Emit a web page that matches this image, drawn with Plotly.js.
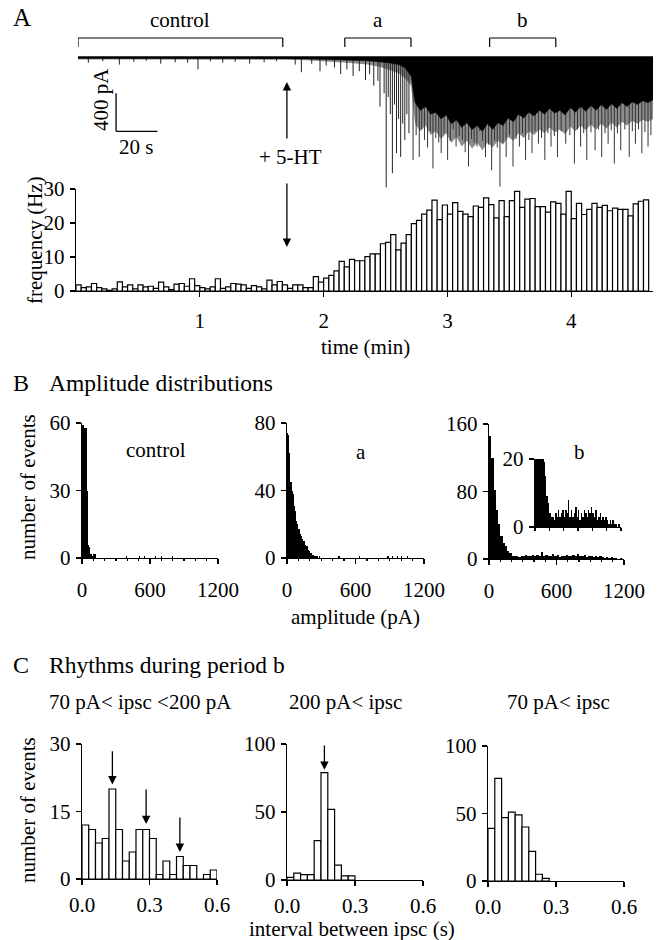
<!DOCTYPE html>
<html>
<head>
<meta charset="utf-8">
<script src="https://cdn.plot.ly/plotly-3.0.1.min.js"></script>
<style>html,body{margin:0;padding:0;background:#fff;}#chart{width:662px;height:940px;}</style>
</head>
<body>
<div id="chart"></div>
<script>
// ---------------- DATA ----------------
// Panel A – raw current trace (time in s, current in pA, downward = negative)
const envT     = [0, 100, 110, 120, 130, 140, 145, 150, 155, 158,
                  161, 163, 165.5, 168, 170.5, 173, 175.5, 178, 180.5, 183, 185.5, 188, 190.5, 193, 195.5, 198, 200.5, 203, 205.5, 208,
                  210.5, 213, 215.5, 218, 220.5, 223, 225.5, 228, 230.5, 233, 235.5, 238, 240.5, 243, 245.5, 248, 250.5, 253, 255.5, 258,
                  260.5, 263, 265.5, 268, 270.5, 273, 275.5, 278];
const envBlack = [-15, -15, -20, -25, -30, -40, -50, -60, -80, -110,
                  -200, -480, -560, -520, -600, -580, -650, -610, -700, -660, -740, -690, -760, -720, -780, -700, -760, -690, -720, -640,
                  -680, -600, -640, -580, -620, -560, -600, -540, -590, -560, -610, -530, -580, -520, -570, -510, -560, -500, -550, -490,
                  -540, -480, -520, -470, -500, -460, -480, -450];
const envGray  = [-25, -25, -35, -45, -60, -80, -100, -130, -170, -220,
                  -300, -700, -780, -720, -820, -780, -860, -800, -900, -840, -940, -880, -960, -900, -980, -900, -950, -880, -920, -840,
                  -880, -800, -850, -780, -820, -760, -800, -740, -790, -760, -810, -730, -780, -720, -770, -710, -760, -700, -750, -690,
                  -740, -680, -720, -670, -700, -660, -680, -650];
// isolated events before the dense period
const spikeT   = [5, 12, 20, 27, 33, 40, 47, 53, 58, 64, 70, 76, 83, 90, 96,
                  105, 108, 113, 117, 120, 124, 127, 130, 133, 136, 139, 141, 143, 145, 146, 148, 149, 150, 151, 152, 153, 154, 155, 156, 157, 158, 159, 160];
const spikeAmp = [-60, -45, -80, -50, -40, -70, -55, -60, -130, -45, -60, -50, -70, -55, -45,
                  -80, -160, -70, -150, -90, -110, -180, -130, -200, -150, -240, -180, -300, -250, -520, -380, -1370, -420, -600, -1220, -500, -1010, -650, -1050, -700, -870, -600, -800];
// large events during the dense period
const denseT   = [162, 163.5, 165, 166.2, 167.5, 169, 170.3, 171.6, 173, 174.4, 175.6, 177, 178.7, 180, 181.4, 182.8, 184.3, 185.8, 187.2, 188.8,
                  190.2, 191.5, 192.9, 194.3, 195.6, 197, 198.5, 200, 201.4, 202.7, 204, 205.5, 207, 208.6, 210.3, 211.8, 213.4, 214.9, 216.4, 218,
                  219.5, 221, 222.6, 224.1, 225.7, 227.2, 228.7, 230.3, 231.8, 233.6, 235.8, 237.8, 240, 241.5, 243, 244.5, 246, 248, 250, 251.6,
                  253.2, 254.8, 256.3, 257.8, 259.3, 260.8, 262.4, 264.4, 266.5, 268, 269.5, 271, 272.6, 274.1, 275.6, 277];
const denseAmp = [-1080, -820, -1050, -760, -870, -950, -780, -1170, -850, -900, -1010, -800, -1080, -880, -760, -940, -830, -870, -1000, -1150,
                  -860, -900, -940, -780, -880, -1050, -920, -1190, -880, -950, -1360, -900, -1050, -820, -1150, -860, -940, -800, -1080, -870,
                  -1010, -780, -910, -850, -1080, -800, -940, -830, -1050, -780, -910, -820, -1120, -760, -940, -800, -1080, -790, -980, -760,
                  -1050, -800, -910, -770, -1120, -800, -980, -760, -1050, -780, -910, -760, -1010, -790, -940, -820];
const periodLabels = ['control', 'a', 'b'];
const periodStart  = [0, 129, 199];   // s
const periodEnd    = [99, 161, 231];  // s
const drugTime = 101;                 // s, 5-HT application
const scaleBarPA = 400, scaleBarS = 20;

// Panel A – event frequency, 2.5 s bins (Hz)
const binSec = 2.5;
const freqHz = [1.8, 1.0, 1.2, 2.2, 1.0, 0.6, 0.2, 0.6, 2.7, 1.2, 1.8, 0.6, 1.8, 1.2, 1.4, 0.8, 2.6, 1.2, 0.4, 2.0,
                2.2, 1.4, 3.6, 1.6, 1.0, 0.6, 1.2, 3.6, 0.8, 1.2, 2.2, 2.0, 1.8, 0.8, 1.6, 1.2, 0.6,
                3.2, 1.8, 2.8, 1.8, 0.8, 1.8, 1.8, 1.0, 1.0, 4.2, 2.6,
                3.8, 4.6, 5.9, 8.7, 7.1, 9.3, 8.9, 8.9, 10.1, 10.9, 10.9, 13.9, 14.3, 16.6, 12.1, 14.1, 16.6, 19.8, 20.8, 22.6, 23.8, 26.7, 21.0, 25.3,
                22.6, 26.0,
                23.4, 22.6, 21.9, 25.0, 24.6, 27.4, 25.4, 21.5, 26.6, 21.9, 26.6, 29.3, 24.6, 27.0, 27.2, 24.8, 24.8, 23.2, 26.2, 25.8,
                22.6, 29.3, 21.3, 25.8, 22.5, 24.0, 25.8, 24.6, 25.2, 23.6, 24.4, 24.0, 24.0, 22.1, 25.6, 26.4, 26.8];

// Panel B – amplitude distributions (number of events)
const ampBinSmall = 10;  // pA
const ampControl = [59, 59, 58, 58, 30, 6, 5, 2, 2, 1, 2, 2];
const ampControlTailX = [395, 505, 555, 645, 705, 795];
const ampControlTailN = [1, 1, 1, 1, 1, 1];
const ampA = [74, 73, 62, 45, 40, 38, 31, 28, 22, 20, 17, 14, 13, 11, 10, 10, 8, 7, 5, 4, 3, 3, 2, 2, 1, 1, 1, 0, 1];
const ampATailX = [455, 635, 885, 925, 965, 1005, 1055];
const ampATailN = [1, 1, 1, 1, 1, 1, 1];
const ampBinLarge = 20;  // pA
const ampB = [146, 120, 82, 58, 42, 27, 19, 15, 9, 7, 4, 3, 3, 2, 4, 3, 5, 3, 4, 5,
              3, 5, 4, 8, 3, 5, 3, 4, 6, 3, 5, 2, 4, 3, 5, 4, 3, 5, 4, 6,
              4, 3, 5, 2, 3, 4, 2, 3, 2, 3, 2, 1, 2, 1, 2, 1, 1, 0, 1, 0];

// Panel C – inter-event intervals, 0.03 s bins (number of events)
const ivlBin = 0.03;
const ivlMid   = [12, 11, 8, 9, 20, 11, 4, 6, 11, 11, 9, 1, 4, 1, 5, 3, 3, 0, 1, 2];   // 70 pA < ipsc < 200 pA
const ivlLarge = [2, 5, 4, 4, 29, 79, 52, 11, 3, 3];                                   // 200 pA < ipsc
const ivlAll   = [39, 76, 47, 51, 49, 40, 22, 5, 2];                                   // 70 pA < ipsc
const midArrowX = [0.135, 0.285, 0.435], midArrowTip = [21, 12.2, 6], midArrowTail = [28.7, 20.2, 14];
const largeArrowX = [0.165], largeArrowTip = [81], largeArrowTail = [100];

// ---------------- HELPERS ----------------
const FONT = "'Liberation Serif', 'Times New Roman', serif";
const W = 662, H = 940;
const px = v => v / W, py = v => 1 - v / H;

function xAx(l, r, range, anchor, extra) {
  return Object.assign({domain: [px(l), px(r)], range: range, anchor: anchor, showline: true, linecolor: 'black', linewidth: 1.2,
    ticks: 'outside', ticklen: 5, tickwidth: 1.2, tickcolor: 'black', showgrid: false, zeroline: false,
    tickfont: {family: FONT, size: 21, color: 'black'}, tickmode: 'array', fixedrange: true, ticklabelstandoff: 8}, extra || {});
}
function yAx(top, bottom, range, anchor, extra) {
  return Object.assign({domain: [py(bottom), py(top)], range: range, anchor: anchor, showline: true, linecolor: 'black', linewidth: 1.2,
    ticks: 'outside', ticklen: 5, tickwidth: 1.2, tickcolor: 'black', showgrid: false, zeroline: false,
    tickfont: {family: FONT, size: 21, color: 'black'}, tickmode: 'array', fixedrange: true, ticklabelstandoff: 1}, extra || {});
}
function ann(text, x, y, size, extra) {
  return Object.assign({text: text, x: px(x), y: py(y), xref: 'paper', yref: 'paper', showarrow: false,
    font: {family: FONT, size: size, color: 'black'}, xanchor: 'center', yanchor: 'middle'}, extra || {});
}
function blackBars(y, x0, dx, xa, ya) {
  return {type: 'bar', y: y, x0: x0, dx: dx, width: dx, xaxis: xa, yaxis: ya,
    marker: {color: 'black', line: {width: 0}}, hoverinfo: 'skip'};
}
function openBars(y, x0, dx, xa, ya, lw) {
  return {type: 'bar', y: y, x0: x0, dx: dx, width: dx, xaxis: xa, yaxis: ya,
    marker: {color: 'white', line: {color: 'black', width: lw}}, hoverinfo: 'skip'};
}
function spikeLines(ts, amps) {
  const x = [], y = [];
  ts.forEach((t, i) => { x.push(t, t, null); y.push(0, amps[i], null); });
  return {x: x, y: y};
}

// ---------------- TRACES ----------------
const data = [];
// Panel A raw trace
data.push({type: 'scatter', mode: 'lines', x: envT, y: envGray, fill: 'tozeroy', fillcolor: '#8c8c8c', line: {width: 0, color: '#8c8c8c'}, xaxis: 'x', yaxis: 'y', hoverinfo: 'skip'});
const ds = spikeLines(denseT, denseAmp);
data.push({type: 'scatter', mode: 'lines', x: ds.x, y: ds.y, line: {width: 1, color: '#333'}, xaxis: 'x', yaxis: 'y', hoverinfo: 'skip'});
const ss = spikeLines(spikeT, spikeAmp);
data.push({type: 'scatter', mode: 'lines', x: ss.x, y: ss.y, line: {width: 1, color: '#222'}, xaxis: 'x', yaxis: 'y', hoverinfo: 'skip'});
data.push({type: 'scatter', mode: 'lines', x: envT, y: envBlack, fill: 'tozeroy', fillcolor: 'black', line: {width: 0.5, color: 'black'}, xaxis: 'x', yaxis: 'y', hoverinfo: 'skip'});

// Panel A frequency histogram (minutes)
data.push(openBars(freqHz, binSec / 2 / 60, binSec / 60, 'x2', 'y2', 1.2));

// Panel B
data.push(blackBars(ampControl, ampBinSmall / 2, ampBinSmall, 'x3', 'y3'));
data.push({type: 'bar', x: ampControlTailX, y: ampControlTailN, width: ampBinSmall, xaxis: 'x3', yaxis: 'y3', marker: {color: 'black', line: {width: 0}}, hoverinfo: 'skip'});
data.push(blackBars(ampA, ampBinSmall / 2, ampBinSmall, 'x4', 'y4'));
data.push({type: 'bar', x: ampATailX, y: ampATailN, width: ampBinSmall, xaxis: 'x4', yaxis: 'y4', marker: {color: 'black', line: {width: 0}}, hoverinfo: 'skip'});
data.push(blackBars(ampB, ampBinLarge / 2, ampBinLarge, 'x5', 'y5'));
data.push(blackBars(ampB, ampBinLarge / 2, ampBinLarge, 'x6', 'y6'));

// Panel C
data.push(openBars(ivlMid, ivlBin / 2, ivlBin, 'x7', 'y7', 1.2));
data.push(openBars(ivlLarge, ivlBin / 2, ivlBin, 'x8', 'y8', 1.2));
data.push(openBars(ivlAll, ivlBin / 2, ivlBin, 'x9', 'y9', 1.2));

// ---------------- LAYOUT ----------------
const hidden = {visible: false, fixedrange: true};
const ampMinor = {tickvals: [100, 200, 300, 400, 500, 700, 800, 900, 1000, 1100], ticklen: 2, ticks: 'outside', tickcolor: 'black'};
const layout = {
  width: W, height: H, margin: {l: 0, r: 0, t: 0, b: 0},
  paper_bgcolor: 'white', plot_bgcolor: 'rgba(0,0,0,0)', showlegend: false, bargap: 0,
  font: {family: FONT, size: 21, color: 'black'},
  xaxis: Object.assign({domain: [px(78), px(653)], range: [0, 278], anchor: 'y'}, hidden),
  yaxis: Object.assign({domain: [py(195), py(45)], range: [-1449, 126], anchor: 'x'}, hidden),
  xaxis2: xAx(76, 653, [0, 4.66], 'y2', {tickvals: [1, 2, 3, 4], ticklabelstandoff: 6}),
  yaxis2: yAx(189, 291, [0, 30], 'x2', {tickvals: [0, 10, 20, 30]}),
  xaxis3: xAx(82, 218, [0, 1200], 'y3', {tickvals: [0, 600, 1200], minor: ampMinor}),
  yaxis3: yAx(423, 558, [0, 60], 'x3', {tickvals: [0, 30, 60]}),
  xaxis4: xAx(287, 424, [0, 1200], 'y4', {tickvals: [0, 600, 1200], minor: ampMinor}),
  yaxis4: yAx(423, 558, [0, 80], 'x4', {tickvals: [0, 40, 80]}),
  xaxis5: xAx(489, 624, [0, 1200], 'y5', {tickvals: [0, 600, 1200], minor: ampMinor}),
  yaxis5: yAx(424, 559, [0, 160], 'x5', {tickvals: [0, 80, 160]}),
  xaxis6: xAx(535, 621, [0, 1200], 'y6', {tickvals: [0, 200, 400, 600, 800, 1000, 1200], showticklabels: false, ticklen: 3}),
  yaxis6: yAx(459, 527, [0, 20], 'x6', {tickvals: [0, 20]}),
  xaxis7: xAx(82, 217, [0, 0.6], 'y7', {tickvals: [0, 0.3, 0.6], tickformat: '.1f', ticklabelstandoff: 2}),
  yaxis7: yAx(744, 879, [0, 30], 'x7', {tickvals: [0, 15, 30]}),
  xaxis8: xAx(287, 423, [0, 0.6], 'y8', {tickvals: [0, 0.3, 0.6], tickformat: '.1f', ticklabelstandoff: 2}),
  yaxis8: yAx(744, 880, [0, 100], 'x8', {tickvals: [0, 50, 100]}),
  xaxis9: xAx(488, 624, [0, 0.6], 'y9', {tickvals: [0, 0.3, 0.6], tickformat: '.1f', ticklabelstandoff: 2}),
  yaxis9: yAx(746, 881, [0, 100], 'x9', {tickvals: [0, 50, 100]}),
  shapes: [], annotations: []
};

// baseline of trace
layout.shapes.push({type: 'line', xref: 'x', yref: 'y', x0: 0, x1: 278, y0: 0, y1: 0, line: {color: 'black', width: 1.5}});
// period brackets
periodLabels.forEach((lab, i) => {
  const s = periodStart[i], e = periodEnd[i];
  const st = {color: 'black', width: 1.2};
  layout.shapes.push({type: 'line', xref: 'x', yref: 'paper', x0: s, x1: e, y0: py(38), y1: py(38), line: st});
  layout.shapes.push({type: 'line', xref: 'x', yref: 'paper', x0: s, x1: s, y0: py(38), y1: py(47), line: st});
  layout.shapes.push({type: 'line', xref: 'x', yref: 'paper', x0: e, x1: e, y0: py(38), y1: py(47), line: st});
  layout.annotations.push({text: lab, x: (s + e) / 2, xref: 'x', y: py(34), yref: 'paper', yanchor: 'bottom', xanchor: 'center', showarrow: false, font: {family: FONT, size: 21, color: 'black'}});
});
// scale bar
layout.shapes.push({type: 'line', xref: 'x', yref: 'y', x0: 18.4, x1: 18.4, y0: -380, y1: -380 - scaleBarPA, line: {color: 'black', width: 1.3}});
layout.shapes.push({type: 'line', xref: 'x', yref: 'y', x0: 18.4, x1: 18.4 + scaleBarS, y0: -380 - scaleBarPA, y1: -380 - scaleBarPA, line: {color: 'black', width: 1.3}});
layout.annotations.push(ann(scaleBarPA + ' pA', 101, 100, 21, {textangle: -90}));
layout.annotations.push(ann(scaleBarS + ' s', 136, 147, 21));
// 5-HT arrows
layout.annotations.push({text: '', x: drugTime, xref: 'x', y: py(82), yref: 'paper', ax: 0, ay: 58, showarrow: true, arrowhead: 2, arrowsize: 1.3, arrowwidth: 1.3, arrowcolor: 'black'});
layout.annotations.push({text: '', x: drugTime, xref: 'x', y: py(247), yref: 'paper', ax: 0, ay: -65, showarrow: true, arrowhead: 2, arrowsize: 1.3, arrowwidth: 1.3, arrowcolor: 'black'});
layout.annotations.push(ann('+ 5-HT', 290, 157, 21));

// Panel labels and titles
layout.annotations.push(ann('A', 22, 17, 25));
layout.annotations.push(ann('frequency (Hz)', 35, 240, 21, {textangle: -90}));
layout.annotations.push(ann('time (min)', 365, 347, 21));
layout.annotations.push(ann('B', 21, 383, 24));
layout.annotations.push(ann('Amplitude distributions', 47, 383, 23.5, {xanchor: 'left'}));
layout.annotations.push(ann('number of events', 28, 487, 21, {textangle: -90}));
layout.annotations.push(ann('control', 156, 450, 21));
layout.annotations.push(ann('a', 361, 452, 21));
layout.annotations.push(ann('b', 579, 452, 21));
layout.annotations.push(ann('amplitude (pA)', 355, 617, 21));
layout.annotations.push(ann('C', 21, 665, 24));
layout.annotations.push(ann('Rhythms during period b', 47, 665, 23.5, {xanchor: 'left'}));
layout.annotations.push(ann('70 pA&lt; ipsc &lt;200 pA', 140, 702, 21));
layout.annotations.push(ann('200 pA&lt; ipsc', 345, 702, 21));
layout.annotations.push(ann('70 pA&lt; ipsc', 558, 702, 21));
layout.annotations.push(ann('number of events', 28, 810, 21, {textangle: -90}));
layout.annotations.push(ann('interval between ipsc (s)', 352, 929, 21));

// Panel C arrows
midArrowX.forEach((x, i) => {
  layout.annotations.push({text: '', x: x, y: midArrowTip[i], xref: 'x7', yref: 'y7', ax: x, ay: midArrowTail[i], axref: 'x7', ayref: 'y7',
    showarrow: true, arrowhead: 2, arrowsize: 1.3, arrowwidth: 1.3, arrowcolor: 'black'});
});
largeArrowX.forEach((x, i) => {
  layout.annotations.push({text: '', x: x, y: largeArrowTip[i], xref: 'x8', yref: 'y8', ax: x, ay: largeArrowTail[i], axref: 'x8', ayref: 'y8',
    showarrow: true, arrowhead: 2, arrowsize: 1.3, arrowwidth: 1.3, arrowcolor: 'black'});
});

Plotly.newPlot('chart', data, layout, {staticPlot: true, displayModeBar: false});
</script>
</body>
</html>
